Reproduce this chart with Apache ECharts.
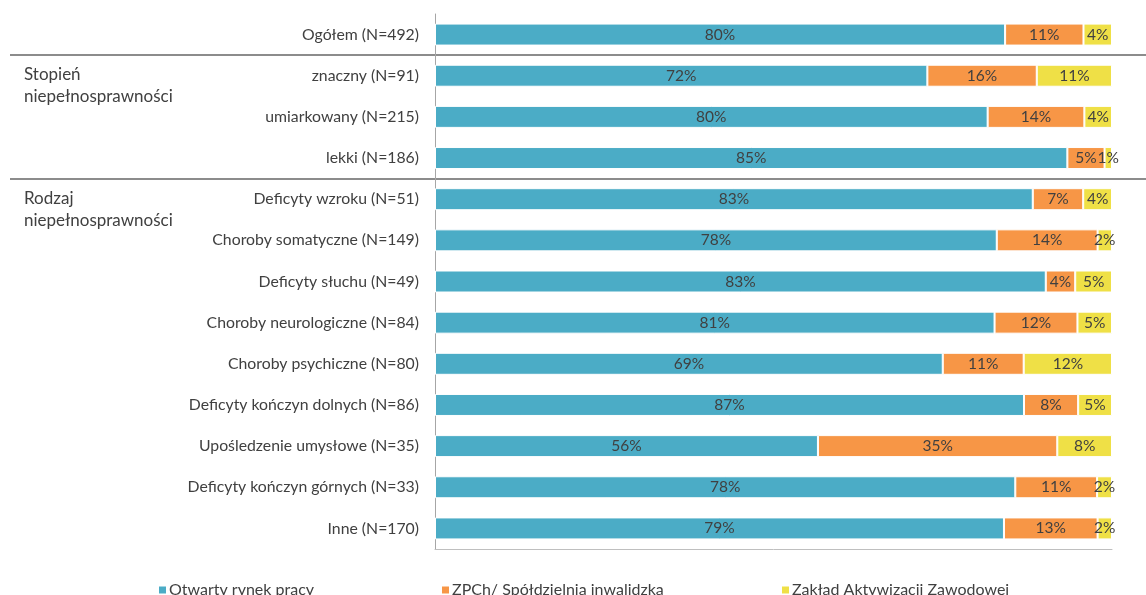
<!DOCTYPE html>
<html>
<head>
<meta charset="utf-8">
<script src="https://cdn.jsdelivr.net/npm/echarts@6/dist/echarts.min.js"></script>
<style>
  html, body { margin: 0; padding: 0; background: #fff; }
  #chart { width: 1146px; height: 595px; }
</style>
</head>
<body>
<div id="chart"></div>
<script>
// Row labels, top to bottom
const categories = [
  'Ogółem (N=492)',
  'znaczny (N=91)',
  'umiarkowany (N=215)',
  'lekki (N=186)',
  'Deficyty wzroku (N=51)',
  'Choroby somatyczne (N=149)',
  'Deficyty słuchu (N=49)',
  'Choroby neurologiczne (N=84)',
  'Choroby psychiczne (N=80)',
  'Deficyty kończyn dolnych (N=86)',
  'Upośledzenie umysłowe (N=35)',
  'Deficyty kończyn górnych (N=33)',
  'Inne (N=170)'
];

// Shares (%) per answer
const otwartyRynek = [80, 72, 80, 85, 83, 78, 83, 81, 69, 87, 56, 78, 79];
const zpch         = [11, 16, 14, 5, 7, 14, 4, 12, 11, 8, 35, 11, 13];
const zaz          = [4, 11, 4, 1, 4, 2, 5, 5, 12, 5, 8, 2, 2];

const seriesNames = ['Otwarty rynek pracy', 'ZPCh/ Spółdzielnia inwalidzka', 'Zakład Aktywizacji Zawodowej'];

// Row groups: label and index of first / last row
const groups = [
  { name: 'Stopień\nniepełnosprawności', from: 1, to: 3 },
  { name: 'Rodzaj\nniepełnosprawności', from: 4, to: 12 }
];

const colors = ['#4BACC6', '#F79646', '#EFE046'];
const FONT = 'Lato';
const TEXT = '#404040';

const raw = [otwartyRynek, zpch, zaz];
const totals = categories.map((_, i) => raw.reduce((s, arr) => s + arr[i], 0));

const chart = echarts.init(document.getElementById('chart'), null, { renderer: 'canvas' });

const series = raw.map((arr, si) => ({
  name: seriesNames[si],
  type: 'bar',
  stack: 'all',
  barWidth: 22,
  // each row is drawn as a 100% stacked bar
  data: arr.map((v, i) => v / totals[i] * 100),
  itemStyle: { color: colors[si], borderColor: '#ffffff', borderWidth: 1 },
  label: {
    show: true,
    position: 'inside',
    color: TEXT,
    fontFamily: FONT,
    fontSize: 15.5,
    formatter: p => raw[si][p.dataIndex] + '%'
  },
  emphasis: { disabled: true }
}));

const legendLefts = [157, 440, 780];

chart.setOption({
  animation: false,
  textStyle: { fontFamily: FONT },
  grid: { left: 435, right: 34, top: 14, bottom: 46, containLabel: false },
  xAxis: {
    type: 'value',
    min: 0,
    max: 100,
    axisLabel: { show: false },
    splitLine: { show: false },
    axisTick: { show: false },
    axisLine: { show: true, lineStyle: { color: '#BFBFBF', width: 1 } }
  },
  yAxis: {
    type: 'category',
    inverse: true,
    data: categories,
    axisTick: { show: false },
    axisLine: { show: true, lineStyle: { color: '#A6A6A6', width: 1 } },
    axisLabel: { color: TEXT, fontFamily: FONT, fontSize: 15.8, margin: 16 }
  },
  legend: legendLefts.map((left, i) => ({
    left: left,
    top: 582,
    padding: 0,
    data: [seriesNames[i]],
    icon: 'rect',
    itemWidth: 9,
    itemHeight: 9,
    itemGap: 0,
    textStyle: { color: TEXT, fontFamily: FONT, fontSize: 16, padding: [0, 0, 0, -3] },
    selectedMode: false
  })),
  series: series
});

// Group separators and group titles placed from the category scale
function drawGroups() {
  const band = chart.convertToPixel({ yAxisIndex: 0 }, 1) - chart.convertToPixel({ yAxisIndex: 0 }, 0);
  const elements = [];
  groups.forEach(g => {
    const yTop = Math.round(chart.convertToPixel({ yAxisIndex: 0 }, g.from) - band / 2);
    elements.push({
      type: 'line',
      shape: { x1: 10, y1: yTop, x2: 1146, y2: yTop },
      style: { stroke: '#8C8C8C', lineWidth: 2 },
      silent: true
    });
    elements.push({
      type: 'text',
      left: 24,
      top: yTop + 9,
      style: {
        text: g.name,
        fill: TEXT,
        font: '17px ' + FONT,
        lineHeight: 22
      },
      silent: true
    });
  });
  chart.setOption({ graphic: elements });
}
drawGroups();
</script>
</body>
</html>
